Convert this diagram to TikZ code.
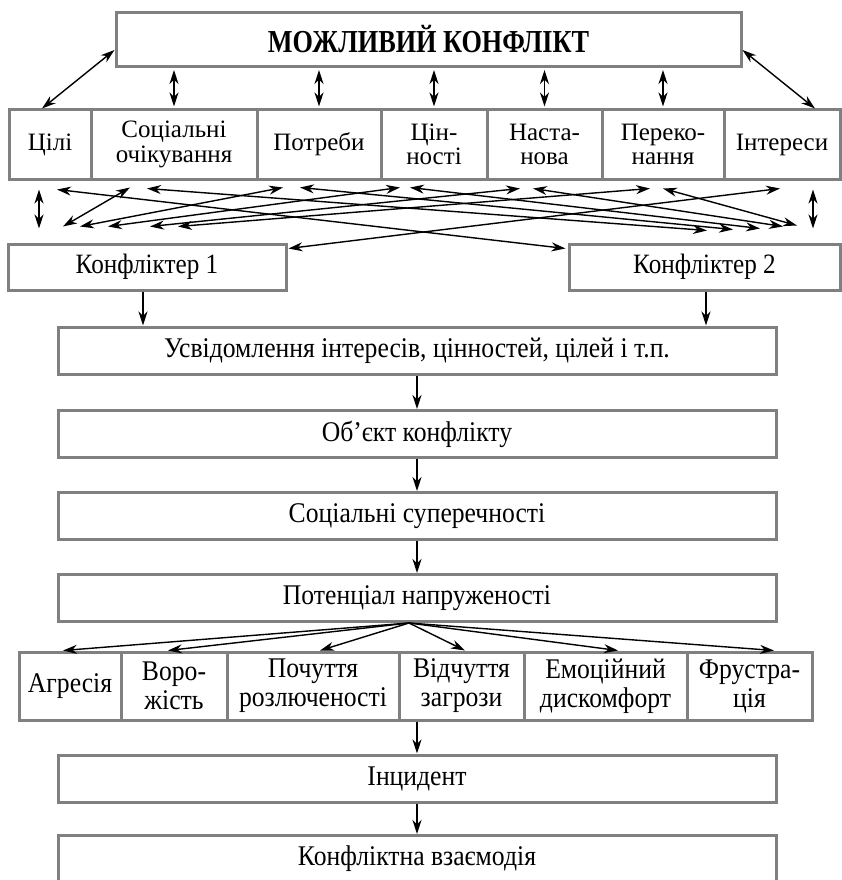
\documentclass[tikz,border=0pt]{standalone}
\usepackage{fontspec}
\setmainfont{Liberation Serif}
\newfontfamily\narrowfont[FakeStretch=0.9]{Liberation Serif}
\newfontfamily\titlefont[FakeStretch=0.82]{Liberation Serif}
\usetikzlibrary{arrows.meta,calc}
\definecolor{boxgray}{RGB}{128,128,128}

\begin{document}
\begin{tikzpicture}[x=1pt, y=-1pt,
    box/.style={draw=boxgray, line width=3pt, fill=white, inner sep=0pt, align=center,
        font=\fontsize{25}{24.5}\selectfont},
    item/.style={box, minimum height=69pt},
    wide/.style={box, minimum width=718pt, minimum height=47pt,
        font=\narrowfont\fontsize{28.5}{30}\selectfont},
    emo/.style={box, minimum height=68pt, font=\narrowfont\fontsize{28.5}{29}\selectfont},
    arr/.style={-{Stealth[length=14pt,width=9pt,inset=4.5pt]}, line width=1.4pt},
    dbl/.style={{Stealth[length=14pt,width=9pt,inset=4.5pt]}-{Stealth[length=14pt,width=9pt,inset=4.5pt]}, line width=1.4pt}]
    \useasboundingbox (0,0) rectangle (842,880);

    % верхній блок
    \node[box, minimum width=625pt, minimum height=54pt,
        font=\titlefont\bfseries\fontsize{32}{34}\selectfont] (mozh) at (428.5,39.5) {МОЖЛИВИЙ КОНФЛІКТ};

    % чинники
    \node[item, minimum width=82pt] (cili) at (50,144.5) {Цілі};
    \node[item, minimum width=166pt] (ochik) at (174,144.5) {Соціальні\\очікування};
    \node[item, minimum width=124pt] (potreby) at (319,144.5) {Потреби};
    \node[item, minimum width=106pt] (cinnosti) at (434,144.5) {Цін-\\ності};
    \node[item, minimum width=115pt] (nastanova) at (544.5,144.5) {Наста-\\нова};
    \node[item, minimum width=122pt] (perekon) at (663,144.5) {Переко-\\нання};
    \node[item, minimum width=116pt] (interesy) at (782,144.5) {Інтереси};

    \draw[dbl] ($(cili.north)+(-8,0)$) -- ($(mozh.west)+(0,10.5)$);
    \draw[dbl] ($(mozh.east)+(0,10.5)$) -- ($(interesy.north)+(33,0)$);
    \foreach \n in {ochik,potreby,cinnosti,nastanova,perekon}
        \draw[dbl, shorten <=2pt, shorten >=2pt] (mozh.south -| \n) -- (\n.north);

    % конфліктери
    \node[box, minimum width=278pt, minimum height=46pt, font=\narrowfont\fontsize{28}{30}\selectfont] (konf1) at (147,267) {Конфліктер 1};
    \node[box, minimum width=271pt, minimum height=46pt, font=\narrowfont\fontsize{28}{30}\selectfont] (konf2) at (704.5,267) {Конфліктер 2};

    % зв'язки чинників з конфліктерами
    \draw[dbl] ($(cili.south)+(-11,9)$) -- ($(konf1.north)+(-108,-14)$);
    \draw[dbl] ($(interesy.south)+(31,9)$) -- ($(konf2.north)+(108.5,-14)$);
    \draw[dbl] ($(cili.south)+(7,9)$) -- ($(konf2.north west)+(-2,6)$);
    \draw[dbl] ($(interesy.south)+(-2,8)$) -- ($(konf1.north east)+(1,6)$);
    \foreach \n/\sx/\sy/\dx/\dy in {ochik/-44/7/-84/-16, potreby/-36/7/-67/-16,
        cinnosti/-34/7/-39/-16, nastanova/-24.5/8/3/-16, perekon/-13/8/31/-16}
        \draw[dbl] ($(\n.south)+(\sx,\sy)$) -- ($(konf1.north)+(\dx,\dy)$);
    \foreach \n/\sx/\sy/\dx/\dy in {ochik/-27/8/2.5/-12, potreby/-19/7/28.5/-13,
        cinnosti/-24/7/55.5/-14, nastanova/-11.5/8/78.5/-16, perekon/0/8/92.5/-17}
        \draw[dbl] ($(\n.south)+(\sx,\sy)$) -- ($(konf2.north)+(\dx,\dy)$);

    % ланцюжок
    \node[wide] (usv) at (417,350.5) {Усвідомлення інтересів, цінностей, цілей і т.п.};
    \node[wide] (obj) at (417,434) {Об’єкт конфлікту};
    \node[wide] (super) at (417,516) {Соціальні суперечності};
    \node[wide] (potenc) at (417,598) {Потенціал напруженості};

    \draw[arr] ($(konf1.south)+(-4,0)$) -- ($(konf1.south |- usv.north)+(-4,0)$);
    \draw[arr] ($(konf2.south)+(1.5,0)$) -- ($(konf2.south |- usv.north)+(1.5,0)$);
    \draw[arr] (usv) -- (obj);
    \draw[arr] (obj) -- (super);
    \draw[arr] (super) -- (potenc);

    % емоції
    \node[emo, minimum width=102pt] (agr) at (70,686) {Агресія};
    \node[emo, minimum width=106pt] (vor) at (174,686) {Воро-\\жість};
    \node[emo, minimum width=172pt] (poch) at (313,686) {Почуття\\розлюченості};
    \node[emo, minimum width=125pt] (vidch) at (461.5,686) {Відчуття\\загрози};
    \node[emo, minimum width=163pt] (emoc) at (605.5,686) {Емоційний\\дискомфорт};
    \node[emo, minimum width=125pt] (frus) at (749.5,686) {Фрустра-\\ція};

    \foreach \n/\dx in {agr/-7, vor/-6, poch/7, vidch/3.5, emoc/12.5, frus/24.5}
        \draw[arr] ($(potenc.south)+(-8,0)$) -- ($(\n.north)+(\dx,0)$);

    \node[wide] (incyd) at (417,778.5) {Інцидент};
    \node[wide] (vzaem) at (417,859) {Конфліктна взаємодія};

    \draw[arr] (vidch.south -| incyd) -- (incyd);
    \draw[arr] (incyd) -- (vzaem);
\end{tikzpicture}
\end{document}
